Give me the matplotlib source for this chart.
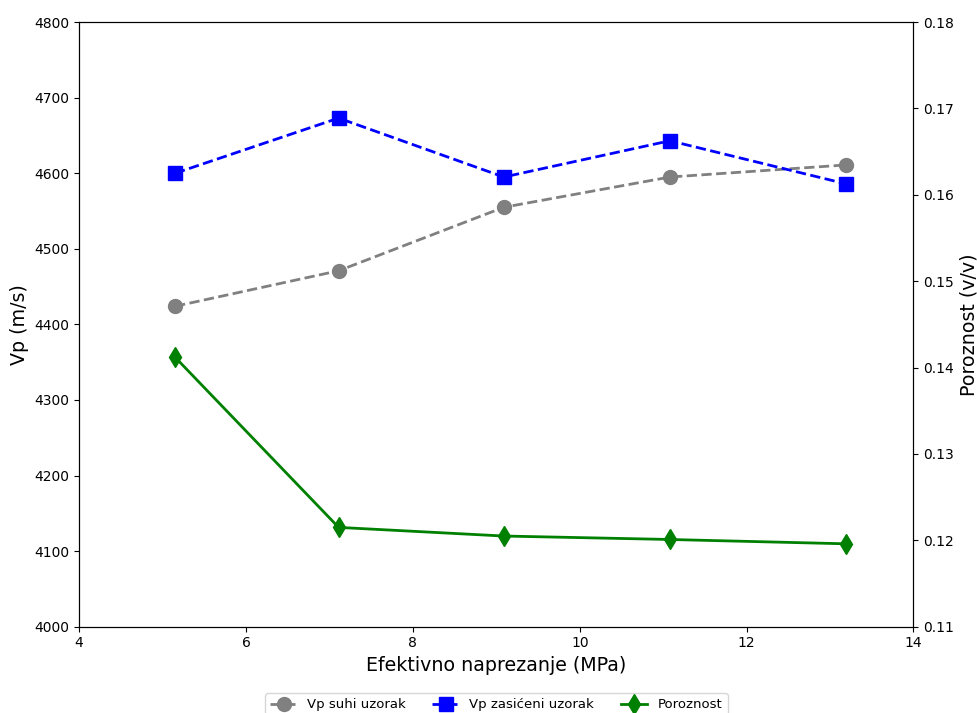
import numpy as np
import matplotlib.pyplot as plt

# effective stress (MPa)
stress = [5.15, 7.11, 9.09, 11.08, 13.19]
vp_dry = [4424, 4471, 4555, 4595, 4611]
vp_sat = [4600, 4673, 4595, 4643, 4586]
porosity = [0.1412, 0.1215, 0.1205, 0.1201, 0.1196]

fig = plt.figure(figsize=(9.77, 7.13), dpi=100)
ax1 = fig.add_axes([0.081, 0.121, 0.854, 0.848])
ax2 = ax1.twinx()

l1, = ax1.plot(stress, vp_dry, '--o', color='gray', linewidth=2, markersize=10, label='Vp suhi uzorak')
l2, = ax1.plot(stress, vp_sat, '--s', color='blue', linewidth=2, markersize=10, label='Vp zasićeni uzorak')
l3, = ax2.plot(stress, porosity, '-d', color='green', linewidth=2, markersize=10, label='Poroznost')

ax1.set_xlim(4, 14)
ax1.set_ylim(4000, 4800)
ax2.set_ylim(0.11, 0.18)

ax1.set_xlabel('Efektivno naprezanje (MPa)', fontsize=13.7)
ax1.set_ylabel('Vp (m/s)', fontsize=13.7)
ax2.set_ylabel('Poroznost (v/v)', fontsize=13.7)

# legend below the plot, partly past the figure edge like the original
ax1.legend(handles=[l1, l2, l3], loc='upper center', bbox_to_anchor=(0.5, -0.099),
           ncol=3, fontsize=9.5)

fig.savefig('out.png', dpi=100)
